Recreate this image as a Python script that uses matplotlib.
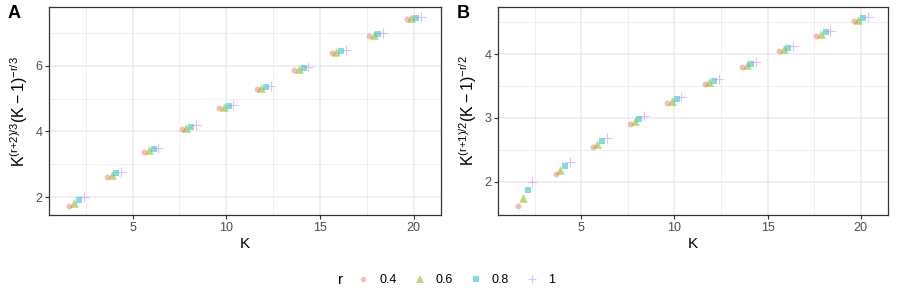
import numpy as np
import matplotlib.pyplot as plt
from matplotlib.lines import Line2D

plt.rcParams["font.family"] = ["Liberation Sans", "DejaVu Sans"]
plt.rcParams["mathtext.fontset"] = "custom"
plt.rcParams["mathtext.rm"] = "Liberation Sans"
plt.rcParams["mathtext.it"] = "Liberation Sans:italic"
plt.rcParams["mathtext.default"] = "regular"

K = np.array([2, 4, 6, 8, 10, 12, 14, 16, 18, 20])
r_levels = ["0.4", "0.6", "0.8", "1"]

# panel A: K^((r+2)/3) (K-1)^(-r/3)
a_04 = [1.741, 2.618, 3.383, 4.072, 4.707, 5.303, 5.866, 6.404, 6.921, 7.419]
a_06 = [1.823, 2.669, 3.425, 4.108, 4.740, 5.334, 5.896, 6.432, 6.947, 7.444]
a_08 = [1.910, 2.721, 3.466, 4.145, 4.774, 5.365, 5.925, 6.460, 6.974, 7.470]
a_10 = [2.000, 2.773, 3.509, 4.182, 4.808, 5.396, 5.954, 6.488, 7.000, 7.495]

# panel B: K^((r+1)/2) (K-1)^(-r/2)
b_04 = [1.625, 2.118, 2.540, 2.905, 3.230, 3.525, 3.798, 4.052, 4.291, 4.518]
b_06 = [1.741, 2.180, 2.587, 2.944, 3.264, 3.556, 3.826, 4.078, 4.316, 4.541]
b_08 = [1.866, 2.244, 2.635, 2.984, 3.298, 3.587, 3.854, 4.105, 4.341, 4.565]
b_10 = [2.000, 2.309, 2.683, 3.024, 3.333, 3.618, 3.883, 4.131, 4.366, 4.588]

colors = ["#F8766D", "#7CAE00", "#00BFC4", "#C77CFF"]
markers = ["o", "^", "s", "+"]
sizes = [18, 38, 20, 42]
offsets = [-0.375, -0.125, 0.125, 0.375]

fig = plt.figure(figsize=(8.97, 2.99), dpi=100)
axA = fig.add_axes([0.055, 0.281, 0.4363, 0.6946])
axB = fig.add_axes([0.5555, 0.281, 0.4341, 0.6946])


def draw(ax, series, yticks, yminor, ylim, ylabel):
    for s, c, m, sz, off in zip(series, colors, markers, sizes, offsets):
        lw = 0.8 if m == "+" else 0
        ax.scatter(K + off, s, marker=m, s=sz, color=c, alpha=0.5,
                   linewidths=lw, zorder=3)
    ax.set_xlim(0.55, 21.45)
    ax.set_ylim(*ylim)
    ax.set_xticks([5, 10, 15, 20])
    ax.set_xticks([2.5, 7.5, 12.5, 17.5], minor=True)
    ax.set_yticks(yticks)
    ax.set_yticks(yminor, minor=True)
    ax.grid(True, which="major", color="#EBEBEB", linewidth=1.1, zorder=0)
    ax.grid(True, which="minor", color="#EBEBEB", linewidth=0.55, zorder=0)
    ax.set_axisbelow(True)
    for sp in ax.spines.values():
        sp.set_color("#333333")
        sp.set_linewidth(0.9)
    ax.tick_params(which="major", length=3, width=0.8, color="#333333",
                   labelsize=9, labelcolor="#4D4D4D", pad=2)
    ax.tick_params(which="minor", length=0)
    ax.set_xlabel("K", fontsize=11, labelpad=2)
    ax.set_ylabel(ylabel, fontsize=11.5, labelpad=4)


draw(axA, [a_04, a_06, a_08, a_10], [2, 4, 6], [3, 5, 7], (1.453, 7.783),
     r"$K^{(r{+}2)/3}(K-1)^{-r/3}$")
draw(axB, [b_04, b_06, b_08, b_10], [2, 3, 4], [2.5, 3.5, 4.5], (1.477, 4.736),
     r"$K^{(r{+}1)/2}(K-1)^{-r/2}$")

fig.text(14 / 897, 1 - 14 / 299, "A", fontsize=13, fontweight="bold",
         ha="center", va="center")
fig.text(463 / 897, 1 - 14 / 299, "B", fontsize=13, fontweight="bold",
         ha="center", va="center")

handles = []
for c, m, sz in zip(colors, markers, sizes):
    lw = 0.8 if m == "+" else 0
    handles.append(Line2D([], [], linestyle="none", marker=m, color=c,
                          alpha=0.5, markersize=np.sqrt(sz) * 0.9,
                          markeredgewidth=lw))
fig.text(341 / 897, 1 - 280 / 299, "r", fontsize=11, ha="center", va="center")
fig.legend(handles, r_levels, loc="center", bbox_to_anchor=(456 / 897, 1 - 280 / 299),
           ncol=4, frameon=False, fontsize=9, handlelength=1.0,
           handletextpad=0.8, columnspacing=1.3, borderpad=0)

fig.savefig("out.png", dpi=100)
